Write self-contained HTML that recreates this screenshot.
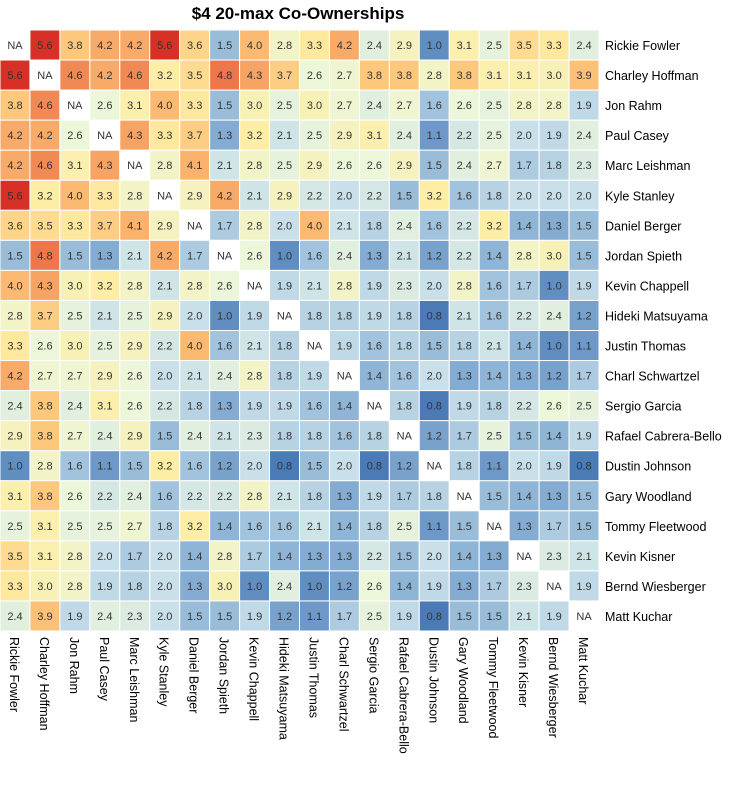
<!DOCTYPE html>
<html><head><meta charset="utf-8"><style>
body{margin:0;background:#fff;width:754px;height:795px;overflow:hidden}
svg{display:block;font-family:"Liberation Sans",Arial,sans-serif}
</style></head><body>
<svg id="chart" width="754" height="795">
<text x="298" y="19" text-anchor="middle" font-size="17" font-weight="bold" fill="#000">$4 20-max Co-Ownerships</text>
<g id="cells"></g><g id="rowlabels"></g><g id="collabels"></g>
</svg>
<script>
const players = ["Rickie Fowler","Charley Hoffman","Jon Rahm","Paul Casey","Marc Leishman","Kyle Stanley","Daniel Berger","Jordan Spieth","Kevin Chappell","Hideki Matsuyama","Justin Thomas","Charl Schwartzel","Sergio Garcia","Rafael Cabrera-Bello","Dustin Johnson","Gary Woodland","Tommy Fleetwood","Kevin Kisner","Bernd Wiesberger","Matt Kuchar"];
const row1 = [null,5.6,3.8,4.2,4.2,5.6,3.6,1.5,4.0,2.8,3.3,4.2,2.4,2.9,1.0,3.1,2.5,3.5,3.3,2.4];
const row2 = [5.6,null,4.6,4.2,4.6,3.2,3.5,4.8,4.3,3.7,2.6,2.7,3.8,3.8,2.8,3.8,3.1,3.1,3.0,3.9];
const row3 = [3.8,4.6,null,2.6,3.1,4.0,3.3,1.5,3.0,2.5,3.0,2.7,2.4,2.7,1.6,2.6,2.5,2.8,2.8,1.9];
const row4 = [4.2,4.2,2.6,null,4.3,3.3,3.7,1.3,3.2,2.1,2.5,2.9,3.1,2.4,1.1,2.2,2.5,2.0,1.9,2.4];
const row5 = [4.2,4.6,3.1,4.3,null,2.8,4.1,2.1,2.8,2.5,2.9,2.6,2.6,2.9,1.5,2.4,2.7,1.7,1.8,2.3];
const row6 = [5.6,3.2,4.0,3.3,2.8,null,2.9,4.2,2.1,2.9,2.2,2.0,2.2,1.5,3.2,1.6,1.8,2.0,2.0,2.0];
const row7 = [3.6,3.5,3.3,3.7,4.1,2.9,null,1.7,2.8,2.0,4.0,2.1,1.8,2.4,1.6,2.2,3.2,1.4,1.3,1.5];
const row8 = [1.5,4.8,1.5,1.3,2.1,4.2,1.7,null,2.6,1.0,1.6,2.4,1.3,2.1,1.2,2.2,1.4,2.8,3.0,1.5];
const row9 = [4.0,4.3,3.0,3.2,2.8,2.1,2.8,2.6,null,1.9,2.1,2.8,1.9,2.3,2.0,2.8,1.6,1.7,1.0,1.9];
const row10 = [2.8,3.7,2.5,2.1,2.5,2.9,2.0,1.0,1.9,null,1.8,1.8,1.9,1.8,0.8,2.1,1.6,2.2,2.4,1.2];
const row11 = [3.3,2.6,3.0,2.5,2.9,2.2,4.0,1.6,2.1,1.8,null,1.9,1.6,1.8,1.5,1.8,2.1,1.4,1.0,1.1];
const row12 = [4.2,2.7,2.7,2.9,2.6,2.0,2.1,2.4,2.8,1.8,1.9,null,1.4,1.6,2.0,1.3,1.4,1.3,1.2,1.7];
const row13 = [2.4,3.8,2.4,3.1,2.6,2.2,1.8,1.3,1.9,1.9,1.6,1.4,null,1.8,0.8,1.9,1.8,2.2,2.6,2.5];
const row14 = [2.9,3.8,2.7,2.4,2.9,1.5,2.4,2.1,2.3,1.8,1.8,1.6,1.8,null,1.2,1.7,2.5,1.5,1.4,1.9];
const row15 = [1.0,2.8,1.6,1.1,1.5,3.2,1.6,1.2,2.0,0.8,1.5,2.0,0.8,1.2,null,1.8,1.1,2.0,1.9,0.8];
const row16 = [3.1,3.8,2.6,2.2,2.4,1.6,2.2,2.2,2.8,2.1,1.8,1.3,1.9,1.7,1.8,null,1.5,1.4,1.3,1.5];
const row17 = [2.5,3.1,2.5,2.5,2.7,1.8,3.2,1.4,1.6,1.6,2.1,1.4,1.8,2.5,1.1,1.5,null,1.3,1.7,1.5];
const row18 = [3.5,3.1,2.8,2.0,1.7,2.0,1.4,2.8,1.7,1.4,1.3,1.3,2.2,1.5,2.0,1.4,1.3,null,2.3,2.1];
const row19 = [3.3,3.0,2.8,1.9,1.8,2.0,1.3,3.0,1.0,2.4,1.0,1.2,2.6,1.4,1.9,1.3,1.7,2.3,null,1.9];
const row20 = [2.4,3.9,1.9,2.4,2.3,2.0,1.5,1.5,1.9,1.2,1.1,1.7,2.5,1.9,0.8,1.5,1.5,2.1,1.9,null];
const values = [row1,row2,row3,row4,row5,row6,row7,row8,row9,row10,row11,row12,row13,row14,row15,row16,row17,row18,row19,row20];

const NS="http://www.w3.org/2000/svg";
const X0=0,Y0=30,CW=29.95,CH=30.05;
const xPos=i=>X0+i*CW, yPos=j=>Y0+j*CH;
const stops=[[0.8,[74,123,183]],[1.4,[143,181,214]],[2.0,[201,224,234]],[2.6,[236,246,216]],[3.2,[254,238,165]],[3.8,[253,199,124]],[4.4,[246,156,94]],[5.0,[232,99,66]],[5.6,[215,48,39]]];
function color(v){
  if(v<=stops[0][0])return `rgb(${stops[0][1]})`;
  for(let k=1;k<stops.length;k++){if(v<=stops[k][0]){const a=stops[k-1],b=stops[k],t=(v-a[0])/(b[0]-a[0]);
    return `rgb(${a[1].map((c,i)=>Math.round(c+(b[1][i]-c)*t)).join(',')})`;}}
  return `rgb(${stops[stops.length-1][1]})`;
}
const gc=document.getElementById('cells');
values.forEach((row,j)=>row.forEach((v,i)=>{
  const r=document.createElementNS(NS,'rect');
  r.setAttribute('x',xPos(i));r.setAttribute('y',yPos(j));r.setAttribute('width',CW);r.setAttribute('height',CH);
  r.setAttribute('fill',v==null?'#fff':color(v));r.setAttribute('stroke','#fff');r.setAttribute('stroke-width','1');
  
  
  gc.appendChild(r);
  const t=document.createElementNS(NS,'text');
  t.setAttribute('x',xPos(i)+CW/2);t.setAttribute('y',yPos(j)+CH/2+4);t.setAttribute('text-anchor','middle');
  t.setAttribute('font-size','11');t.setAttribute('fill','#333');
  t.textContent=v==null?'NA':v.toFixed(1);
  
  
  gc.appendChild(t);
}));
const gr=document.getElementById('rowlabels'),gl=document.getElementById('collabels');
players.forEach((p,k)=>{
  const t=document.createElementNS(NS,'text');
  t.setAttribute('x',605);t.setAttribute('y',yPos(k)+CH/2+5);t.setAttribute('font-size','12.5');t.setAttribute('fill','#000');
  t.textContent=p;
  
  
  gr.appendChild(t);
  const c=document.createElementNS(NS,'text');
  const cx=xPos(k)+CW/2-5, cy=637;
  c.setAttribute('x',cx);c.setAttribute('y',cy);c.setAttribute('font-size','12.5');c.setAttribute('fill','#000');
  c.setAttribute('transform',`rotate(90 ${cx} ${cy})`);
  c.textContent=p;
  
  
  gl.appendChild(c);
});
</script>
</body></html>
